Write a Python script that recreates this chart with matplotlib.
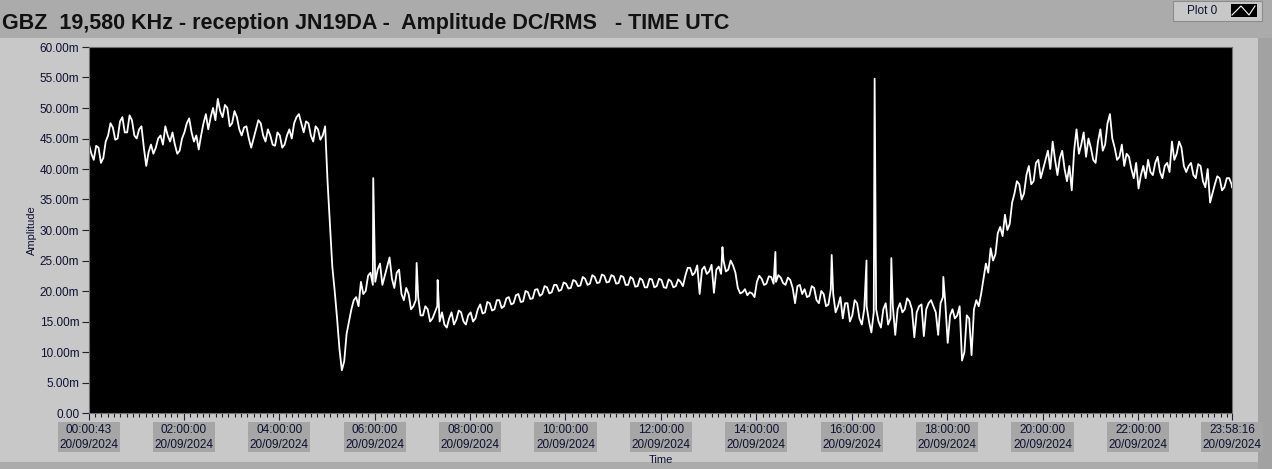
import matplotlib.pyplot as plt
from matplotlib.patches import Rectangle
from matplotlib.lines import Line2D
from matplotlib.ticker import MultipleLocator
import numpy as np

# waveform: start time (hours UTC), sample step (hours), amplitude in mV
t0_h = 43 / 3600          # 00:00:43
dt_h = 0.1
amp_mv = [
    44.0, 41.5, 43.5, 41.8, 45.5, 46.8, 45.0, 48.5, 46.0, 48.0,   # 00h
    45.0, 47.0, 40.5, 44.0, 43.5, 45.5, 47.0, 44.5, 44.0, 43.0,   # 01h
    46.0, 48.3, 44.5, 43.2, 47.5, 46.5, 50.0, 51.5, 48.5, 50.0,   # 02h
    47.5, 48.5, 45.5, 47.0, 43.5, 46.5, 47.5, 44.5, 45.5, 43.8,   # 03h
    45.5, 44.0, 46.5, 47.5, 49.0, 46.0, 47.5, 44.5, 46.5, 45.5,   # 04h
    38.0, 24.0, 15.5, 7.0, 13.0, 17.0, 19.0, 21.5, 20.0, 23.0,    # 05h
    21.5, 24.5, 22.5, 25.5, 20.5, 23.5, 18.5, 19.5, 17.5, 19.0,   # 06h
    16.0, 17.0, 15.5, 17.5, 16.5, 14.0, 16.5, 15.3, 16.5, 14.5,   # 07h
    16.5, 15.5, 17.8, 16.5, 18.0, 17.0, 18.5, 17.5, 19.0, 18.0,   # 08h
    19.5, 18.3, 19.8, 18.8, 20.3, 19.5, 20.6, 19.8, 21.0, 20.2,   # 09h
    21.2, 20.5, 21.6, 20.9, 22.0, 21.2, 22.3, 21.4, 22.5, 21.5,   # 10h
    22.4, 21.3, 22.3, 21.0, 22.0, 20.8, 21.8, 20.6, 21.9, 20.8,   # 11h
    21.8, 20.5, 21.6, 20.8, 21.5, 22.5, 23.8, 23.0, 19.5, 24.0,   # 12h
    23.2, 19.7, 24.0, 25.0, 23.5, 24.2, 20.5, 19.8, 19.3, 19.6,   # 13h
    21.5, 22.0, 21.2, 22.3, 21.5, 22.2, 21.0, 21.8, 18.0, 21.0,   # 14h
    20.3, 19.2, 20.5, 18.0, 19.5, 17.8, 19.5, 17.5, 15.5, 18.0,   # 15h
    16.0, 18.0, 14.5, 17.5, 13.2, 17.0, 14.0, 18.0, 15.5, 12.8,   # 16h
    18.0, 17.0, 18.3, 12.4, 17.5, 12.6, 18.0, 17.5, 12.8, 19.0,   # 17h
    11.5, 17.0, 16.0, 8.6, 16.0, 9.5, 18.5, 19.5, 24.5, 27.0,     # 18h
    26.0, 30.5, 32.5, 31.0, 36.0, 37.5, 36.0, 40.5, 38.0, 41.5,   # 19h
    40.0, 43.0, 44.5, 39.0, 43.0, 38.0, 36.5, 46.5, 44.0, 42.0,   # 20h
    43.5, 41.0, 46.5, 44.0, 49.0, 43.5, 42.0, 40.5, 42.0, 38.5,   # 21h
    36.8, 40.5, 41.5, 39.0, 42.0, 38.5, 41.0, 44.5, 42.5, 43.5,   # 22h
    39.5, 41.0, 38.5, 40.5, 37.0, 34.5, 37.5, 38.5, 37.0, 38.5,   # 23h
]
# in-between samples (half a step later), the other edge of the noise band
amp_mid_mv = [
    42.5, 43.8, 41.0, 44.5, 47.5, 44.8, 47.8, 46.0, 48.8, 45.5,   # 00h
    46.5, 43.5, 42.8, 42.5, 45.0, 44.0, 45.5, 46.0, 42.5, 45.0,   # 01h
    47.5, 46.0, 45.5, 45.5, 49.0, 48.5, 48.0, 49.5, 50.5, 47.0,   # 02h
    49.5, 46.5, 46.8, 45.0, 45.0, 48.0, 45.5, 46.5, 44.0, 46.0,   # 03h
    43.5, 45.5, 45.0, 48.5, 47.5, 47.8, 45.5, 47.0, 44.8, 47.0,   # 04h
    31.0, 20.0, 10.5, 8.5, 15.0, 18.5, 17.5, 19.5, 22.5, 21.0,    # 05h
    23.5, 21.0, 24.0, 22.0, 23.0, 19.5, 20.5, 17.0, 18.5, 16.0,   # 06h
    17.5, 15.0, 16.5, 15.0, 14.5, 15.5, 14.5, 16.8, 15.0, 16.0,   # 07h
    15.0, 17.0, 16.3, 18.2, 16.8, 18.5, 17.2, 18.8, 17.8, 19.3,   # 08h
    18.2, 20.0, 18.7, 20.2, 19.2, 20.8, 19.6, 21.0, 20.0, 21.4,   # 09h
    20.4, 21.8, 20.8, 22.3, 21.0, 22.6, 21.3, 22.7, 21.4, 22.6,   # 10h
    21.2, 22.5, 21.0, 22.3, 20.7, 22.1, 20.6, 22.0, 20.6, 22.0,   # 11h
    20.6, 21.9, 20.6, 21.9, 20.8, 23.8, 22.6, 24.2, 23.5, 22.8,   # 12h
    24.3, 23.5, 22.8, 23.2, 25.0, 23.0, 19.6, 20.3, 19.8, 19.0,   # 13h
    22.5, 21.0, 22.4, 21.2, 22.6, 21.3, 22.2, 20.5, 20.8, 19.5,   # 14h
    19.0, 20.8, 18.5, 20.0, 17.5, 20.3, 16.5, 19.0, 18.0, 15.0,   # 15h
    18.5, 15.5, 17.0, 15.0, 16.5, 15.0, 17.0, 14.5, 17.5, 17.0,   # 16h
    16.5, 18.8, 17.0, 16.5, 17.8, 17.0, 18.5, 16.5, 18.0, 18.0,   # 17h
    16.0, 15.5, 17.5, 10.0, 15.5, 17.0, 17.5, 22.0, 23.0, 25.0,   # 18h
    29.5, 29.0, 30.0, 34.5, 38.0, 35.0, 39.0, 37.5, 41.0, 38.5,   # 19h
    41.5, 40.0, 41.5, 41.8, 40.0, 40.5, 43.0, 42.5, 46.0, 45.0,   # 20h
    41.5, 44.5, 43.0, 47.5, 45.0, 41.5, 44.0, 42.5, 40.0, 41.0,   # 21h
    39.0, 38.5, 39.5, 41.0, 39.5, 40.5, 39.5, 41.5, 44.5, 40.5,   # 22h
    40.5, 39.0, 40.8, 38.0, 40.0, 36.0, 38.8, 36.5, 38.5, 37.5,   # 23h
]
t_end_h = 23 + 58 / 60 + 16 / 3600   # 23:58:16
end_mv = 37.0

# isolated spikes
spike_t = [5.97, 6.88, 7.32, 13.29, 14.40, 15.58, 16.31, 16.48, 16.83, 17.92]
spike_mv = [38.5, 24.6, 21.8, 27.2, 26.4, 25.9, 25.0, 54.8, 25.4, 22.3]

x_ticks = [t0_h, 2, 4, 6, 8, 10, 12, 14, 16, 18, 20, 22, t_end_h]
x_labels = ["00:00:43", "02:00:00", "04:00:00", "06:00:00", "08:00:00", "10:00:00",
            "12:00:00", "14:00:00", "16:00:00", "18:00:00", "20:00:00", "22:00:00",
            "23:58:16"]
date_str = "20/09/2024"
y_ticks = list(range(0, 61, 5))

# merge samples + spikes
n = len(amp_mv)
t = np.concatenate([t0_h + np.arange(n) * dt_h, t0_h + np.arange(n) * dt_h + dt_h / 2,
                    [t_end_h], spike_t])
v = np.concatenate([amp_mv, amp_mid_mv, [end_mv], spike_mv])
order = np.argsort(t)
t, v = t[order], v[order]

W, H = 1272, 469
fig = plt.figure(figsize=(W / 100, H / 100), dpi=100, facecolor="#ababab")

# light panel behind the chart
fig.patches.append(Rectangle((0, 7 / H), 1258 / W, (462 - 38) / H, transform=fig.transFigure,
                             facecolor="#c8c8c8", edgecolor="none", zorder=-10))
fig.patches.append(Rectangle((1258 / W, 0), 14 / W, 431 / H, transform=fig.transFigure,
                             facecolor="#a2a2a2", edgecolor="none", zorder=-10))

# "Plot 0" legend box
fig.patches.append(Rectangle((1173 / W, 1 - 21 / H), 89 / W, 20 / H, transform=fig.transFigure,
                             facecolor="#c8c8c8", edgecolor="#8c8c8c", lw=0.8, zorder=1))
fig.text(1187 / W, 1 - 11 / H, "Plot 0", fontsize=8.5, family="Liberation Sans",
         color="#101030", va="center", ha="left")
fig.patches.append(Rectangle((1230 / W, 1 - 17 / H), 27 / W, 14 / H, transform=fig.transFigure,
                             facecolor="black", edgecolor="#e0e0e0", lw=0.6, zorder=2))
fig.lines.append(Line2D(np.array([1232, 1241, 1249, 1255]) / W,
                        1 - np.array([15, 6, 15, 6]) / H, transform=fig.transFigure,
                        color="white", lw=0.8, zorder=3))

fig.text(2 / W, 1 - 23 / H, "GBZ  19,580 KHz - reception JN19DA -  Amplitude DC/RMS   - TIME UTC",
         fontsize=15.5, fontweight="bold", family="Liberation Sans", color="#111111",
         va="center", ha="left")

ax = fig.add_axes([89 / W, 56 / H, (1232 - 89) / W, (413 - 47) / H])
ax.set_facecolor("black")
ax.plot(t, v, color="white", lw=1.3)

ax.set_xlim(t0_h, t_end_h)
ax.set_ylim(0, 60)
ax.set_yticks(y_ticks)
ax.set_yticklabels(["0.00" if y == 0 else f"{y:.2f}m" for y in y_ticks])
ax.set_xticks(x_ticks)
ax.set_xticklabels([f"{s}\n{date_str}" for s in x_labels])
ax.xaxis.set_minor_locator(MultipleLocator(2 / 15))

tc = "#202030"
ax.tick_params(axis="y", length=5, width=0.8, color=tc, labelsize=8.5, labelcolor="#101030", pad=2)
ax.tick_params(axis="x", which="major", length=5, width=0.8, color=tc, labelsize=8.5,
               labelcolor="#101030", pad=3)
ax.tick_params(axis="x", which="minor", length=3, width=0.8, color=tc)
for lab in ax.get_xticklabels() + ax.get_yticklabels():
    lab.set_family("Liberation Sans")
for lab in ax.get_xticklabels():
    lab.set_linespacing(1.3)
    lab.set_bbox(dict(facecolor="#a6a6a6", edgecolor="none", pad=1.2))
for s in ax.spines.values():
    s.set_color("#707070")
    s.set_linewidth(0.8)

ax.set_xlabel("Time", fontsize=8, family="Liberation Sans", color="#101030", labelpad=3)
ax.set_ylabel("Amplitude", fontsize=8, family="Liberation Sans", color="#101030", labelpad=2)

fig.savefig("out.png", dpi=100, facecolor=fig.get_facecolor())
